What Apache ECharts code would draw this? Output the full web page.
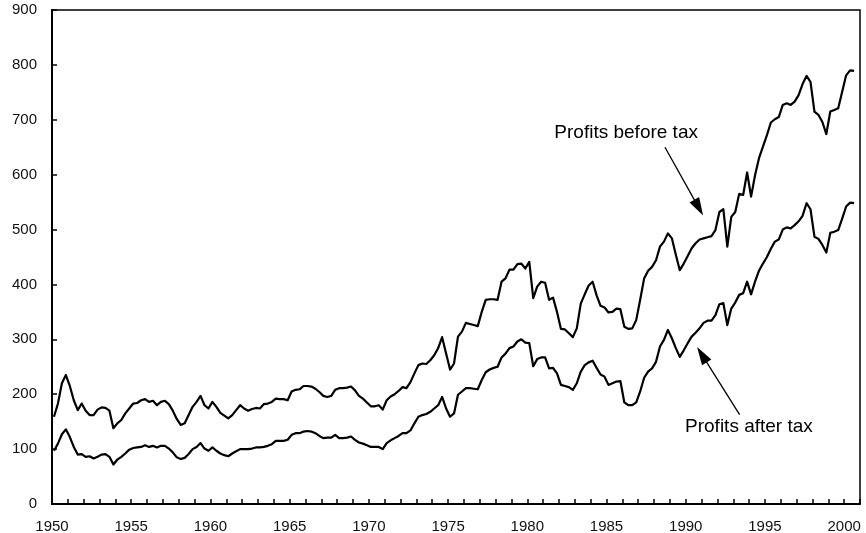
<!DOCTYPE html>
<html>
<head>
<meta charset="utf-8">
<script src="https://cdn.jsdelivr.net/npm/echarts@6/dist/echarts.min.js"></script>
<style>
  html, body { margin: 0; padding: 0; background: #fff; }
  #chart { width: 866px; height: 533px; }
</style>
</head>
<body>
<div id="chart"></div>
<script>
// Corporate profits, quarterly, billions of dollars (1950 Q1 onward)
const firstYear = 1950;

const profitsBeforeTax = [
  159, 183, 220, 235,  215, 189, 171, 183,  170, 162, 162, 172,  176, 175, 170, 138,
  147, 153, 165, 174,  183, 184, 189, 191,  186, 188, 180, 186,  188, 182, 170, 155,
  144, 147, 162, 177,  186, 197, 180, 174,  186, 177, 166, 161,  156, 162, 171, 180,
  174, 170, 173, 175,  174, 182, 183, 186,  192, 191, 191, 189,  205, 208, 209, 215,
  215, 214, 210, 204,  197, 195, 197, 208,  211, 211, 212, 214,  207, 197, 192, 185,
  178, 178, 180, 172,  189, 196, 200, 206,  213, 211, 222, 238,  253, 256, 255, 262,
  271, 284, 304, 274,  245, 256, 305, 314,  330, 328, 326, 324,  350, 372, 373, 373,
  372, 405, 411, 427,  427, 437, 438, 429,  441, 375, 396, 405,  403, 372, 376, 350,
  319, 318, 311, 304,  320, 365, 382, 398,  405, 380, 361, 358,  349, 350, 356, 355,
  323, 319, 320, 335,  372, 411, 425, 432,  444, 469, 478, 493,  484, 454, 426, 438,
  452, 466, 475, 482,  484, 486, 488, 499,  532, 537, 469, 523,  532, 565, 563, 604,
  560, 599, 630, 651,  672, 695, 701, 705,  727, 730, 727, 733,  745, 765, 780, 769,
  715, 709, 696, 674,  715, 718, 721, 751,  781, 790, 789
];

const profitsAfterTax = [
   97, 110, 127, 136,  122, 104,  90,  91,   86,  87,  83,  86,   90,  91,  86,  72,
   81,  86,  92,  99,  102, 103, 104, 107,  104, 106, 103, 106,  106, 101,  94,  85,
   82,  84,  91, 100,  104, 111, 101,  97,  103,  97,  92,  89,   87,  92,  96, 100,
  100, 100, 101, 103,  103, 104, 106, 109,  115, 115, 115, 117,  126, 129, 129, 132,
  133, 132, 129, 124,  120, 121, 121, 126,  120, 120, 121, 123,  117, 112, 110, 107,
  104, 104, 104, 100,  111, 116, 120, 124,  129, 129, 134, 147,  159, 162, 164, 168,
  174, 180, 195, 174,  159, 165, 199, 205,  211, 211, 210, 209,  226, 240, 245, 248,
  250, 267, 274, 284,  287, 296, 300, 294,  293, 251, 264, 267,  267, 247, 248, 238,
  217, 215, 213, 208,  220, 241, 253, 258,  261, 248, 236, 232,  217, 220, 223, 224,
  185, 180, 180, 185,  205, 230, 241, 247,  259, 287, 299, 317,  302, 284, 268, 280,
  293, 305, 312, 320,  330, 334, 334, 344,  364, 366, 326, 356,  367, 381, 384, 405,
  382, 405, 425, 438,  450, 465, 478, 482,  500, 504, 502, 508,  515, 525, 548, 537,
  487, 483, 472, 458,  494, 496, 499, 520,  542, 549, 548
];

const seriesNames = ['Profits before tax', 'Profits after tax'];

// Annotation anchors in data coordinates: [year, value]
const beforeLabelAt = [1986.24, 676];
const beforeArrowFrom = [1988.69, 650];
const beforeArrowTo = [1990.82, 540];
const afterLabelAt = [1993.99, 140];
const afterArrowFrom = [1993.40, 163];
const afterArrowTo = [1991.02, 272];

const FONT = '"Liberation Sans", Arial, Helvetica, sans-serif';

// Place each quarterly value at the middle of its quarter
function toPoints(values) {
  return values.map((v, i) => [firstYear + 0.125 + i * 0.25, v]);
}

function annotation(labelAt, from, to, text) {
  return {
    markLine: {
      silent: true,
      symbol: ['none', 'triangle'],
      symbolSize: [11, 18],
      label: { show: false },
      lineStyle: { color: '#000', width: 1.3, type: 'solid' },
      emphasis: { disabled: true },
      data: [[{ coord: from }, { coord: to }]]
    },
    markPoint: {
      silent: true,
      symbol: 'rect',
      symbolSize: 0,
      label: {
        show: true,
        formatter: text,
        color: '#000',
        fontFamily: FONT,
        fontSize: 19,
        position: 'inside'
      },
      data: [{ coord: labelAt }]
    }
  };
}

const chart = echarts.init(document.getElementById('chart'), null, { renderer: 'canvas' });

chart.setOption({
  animation: false,
  backgroundColor: '#fff',
  textStyle: { fontFamily: FONT },
  grid: {
    left: 52, right: 6, top: 10, bottom: 29,
    outerBoundsMode: 'none',
    containLabel: false,
    show: true, borderColor: '#000', borderWidth: 1.5, backgroundColor: 'transparent'
  },
  xAxis: {
    type: 'value',
    min: 1950, max: 2001, interval: 1,
    axisLine: { show: true, lineStyle: { color: '#000', width: 2 } },
    axisTick: { show: true, inside: true, length: 5, lineStyle: { color: '#000', width: 1.5 } },
    axisLabel: {
      color: '#111', fontSize: 15, fontFamily: FONT, margin: 15,
      formatter: v => (v % 5 === 0 ? String(v) : '')
    },
    splitLine: { show: false }
  },
  yAxis: {
    type: 'value',
    min: 0, max: 900, interval: 100,
    axisLine: { show: true, lineStyle: { color: '#000', width: 2 } },
    axisTick: { show: true, inside: true, length: 5, lineStyle: { color: '#000', width: 1.5 } },
    axisLabel: { color: '#111', fontSize: 15, fontFamily: FONT, margin: 15 },
    splitLine: { show: false }
  },
  series: [
    Object.assign({
      name: seriesNames[0],
      type: 'line',
      data: toPoints(profitsBeforeTax),
      showSymbol: false,
      lineStyle: { color: '#000', width: 2.2, join: 'round' },
      silent: true
    }, annotation(beforeLabelAt, beforeArrowFrom, beforeArrowTo, seriesNames[0])),
    Object.assign({
      name: seriesNames[1],
      type: 'line',
      data: toPoints(profitsAfterTax),
      showSymbol: false,
      lineStyle: { color: '#000', width: 2.2, join: 'round' },
      silent: true
    }, annotation(afterLabelAt, afterArrowFrom, afterArrowTo, seriesNames[1]))
  ]
});
</script>
</body>
</html>
